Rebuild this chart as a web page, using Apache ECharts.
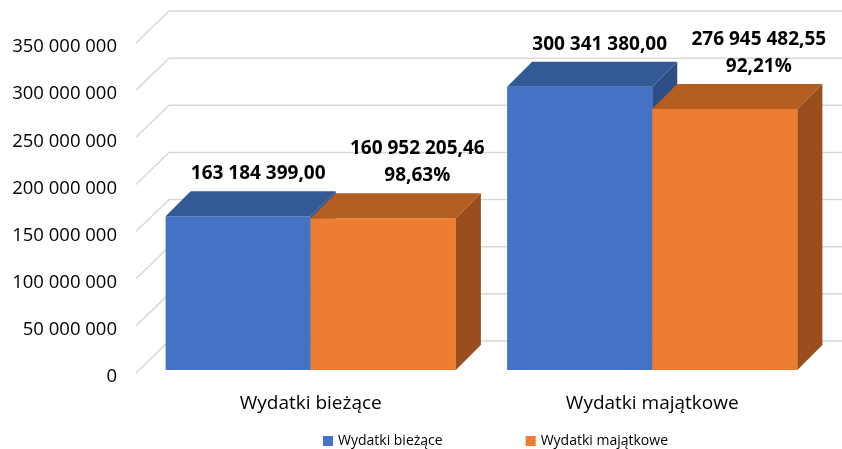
<!DOCTYPE html>
<html>
<head>
<meta charset="utf-8">
<script src="https://cdn.jsdelivr.net/npm/echarts@6/dist/echarts.min.js"></script>
<style>
html, body { margin: 0; padding: 0; background: #fff; }
#container { width: 842px; height: 449px; }
</style>
</head>
<body>
<div id="container"></div>
<script>
var dom = document.getElementById('container');
var myChart = echarts.init(dom, null, { renderer: 'canvas' });

// data
var categories = ['Wydatki bieżące', 'Wydatki majątkowe'];
var seriesNames = ['Wydatki bieżące', 'Wydatki majątkowe'];
var planned = [163184399.00, 300341380.00];
var executed = [160952205.46, 276945482.55];
var yTicks = [0, 50000000, 100000000, 150000000, 200000000, 250000000, 300000000, 350000000];

var FONT = 'Open Sans';
var DEPTH = 25;
var faces = [
    { front: '#4472C4', top: '#335A97', side: '#2E4F86' },
    { front: '#ED7D31', top: '#B55E22', side: '#9A4E1D' }
];

function groupDigits(s) {
    return s.replace(/\B(?=(\d{3})+(?!\d))/g, ' ');
}
function fmtMoney(v) {
    var parts = v.toFixed(2).split('.');
    return groupDigits(parts[0]) + ',' + parts[1];
}
function fmtPct(v) {
    return (v * 100).toFixed(2).replace('.', ',') + '%';
}

// back wall grid: diagonal from the axis + horizontal line on the wall
function renderWall(params, api) {
    var cs = params.coordSys;
    var p = api.coord([0, api.value(1)]);
    var x0 = cs.x - 4, y0 = p[1] + 3;
    var x1 = cs.x + 29, y1 = p[1] - 29;
    return {
        type: 'polyline',
        shape: { points: [[x0, y0], [x1, y1], [842, y1]] },
        style: { stroke: '#D9D9D9', lineWidth: 1.5, fill: null }
    };
}

function makeBarRender(s) {
    return function (params, api) {
        var i = api.value(0);
        var v = api.value(1);
        var c = api.coord([i, v]);
        var base = api.coord([i, 0]);
        var band = api.size([1, 0])[0];
        var w = band * 0.425;
        var x0 = c[0] + (s === 0 ? -w : 0);
        var top = c[1], bot = base[1];
        var d = DEPTH;
        var col = faces[s];
        return {
            type: 'group',
            children: [
                { type: 'rect', shape: { x: x0, y: top, width: w, height: bot - top },
                  style: { fill: col.front } },
                { type: 'polygon', shape: { points: [[x0, top], [x0 + d, top - d], [x0 + w + d, top - d], [x0 + w, top]] },
                  style: { fill: col.top } },
                { type: 'polygon', shape: { points: [[x0 + w, top], [x0 + w + d, top - d], [x0 + w + d, bot - d], [x0 + w, bot]] },
                  style: { fill: col.side } }
            ]
        };
    };
}

function makeLabelRender(s) {
    return function (params, api) {
        var i = api.value(0);
        var v = api.value(1);
        var c = api.coord([i, v]);
        var w = api.size([1, 0])[0] * 0.425;
        var x0 = c[0] + (s === 0 ? -w : 0);
        var label = s === 0 ? fmtMoney(v) : fmtMoney(v) + '\n' + fmtPct(v / planned[i]);
        return {
            type: 'text', x: x0 + w / 2 + (s === 0 ? 20 : 34), y: c[1] - DEPTH - 4,
            style: { text: label, fill: '#000', font: 'bold 19px "' + FONT + '"',
                     align: 'center', verticalAlign: 'bottom', lineHeight: 27 }
        };
    };
}

var option = {
    backgroundColor: '#fff',
    animation: false,
    legend: {
        data: seriesNames,
        top: 429,
        left: 318,
        itemWidth: 10,
        itemHeight: 10,
        itemGap: 83,
        icon: 'rect',
        textStyle: { fontFamily: FONT, fontSize: 14, color: '#000' }
    },
    grid: { left: 140, right: 19, top: 40, bottom: 79 },
    xAxis: {
        type: 'category',
        data: categories,
        axisLine: { show: false },
        axisTick: { show: false },
        axisLabel: { fontFamily: FONT, fontSize: 19, color: '#000', margin: 24 }
    },
    yAxis: {
        type: 'value',
        min: 0,
        max: 350000000,
        interval: 50000000,
        splitLine: { show: false },
        axisLine: { show: false },
        axisTick: { show: false },
        axisLabel: {
            margin: 23,
            formatter: function (v) { return '{v|' + groupDigits(String(v)) + '}'; },
            rich: {
                v: { fontFamily: FONT, fontSize: 18.5, color: '#000', padding: [14, 0, 0, 0] }
            }
        }
    },
    series: [
        {
            type: 'custom',
            name: 'wall',
            silent: true,
            z: 1,
            renderItem: renderWall,
            data: yTicks.map(function (t) { return [0, t]; })
        },
        {
            type: 'custom',
            name: seriesNames[0],
            z: 2,
            itemStyle: { color: faces[0].front },
            renderItem: makeBarRender(0),
            data: planned.map(function (v, i) { return [i, v]; })
        },
        {
            type: 'custom',
            name: seriesNames[1],
            z: 3,
            itemStyle: { color: faces[1].front },
            renderItem: makeBarRender(1),
            data: executed.map(function (v, i) { return [i, v]; })
        },
        {
            type: 'custom',
            name: 'labels0',
            silent: true,
            z: 4,
            renderItem: makeLabelRender(0),
            data: planned.map(function (v, i) { return [i, v]; })
        },
        {
            type: 'custom',
            name: 'labels1',
            silent: true,
            z: 4,
            renderItem: makeLabelRender(1),
            data: executed.map(function (v, i) { return [i, v]; })
        }
    ]
};

myChart.setOption(option);
window.addEventListener('resize', myChart.resize);
</script>
</body>
</html>
